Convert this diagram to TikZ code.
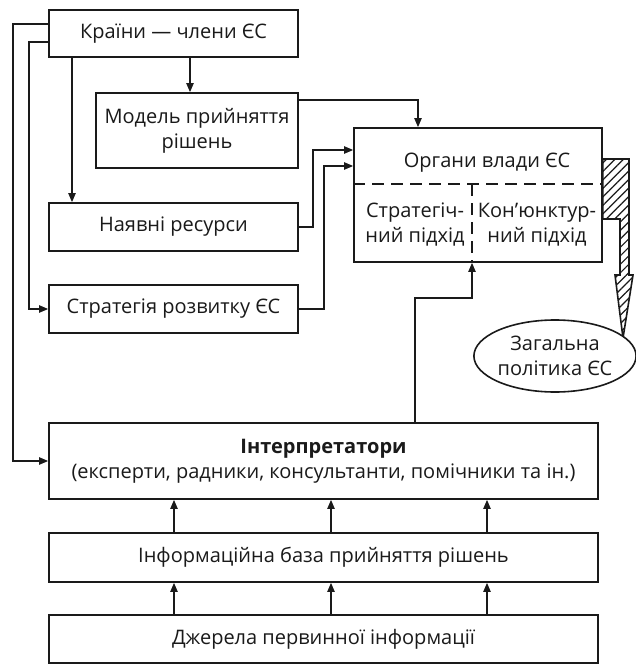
\documentclass[tikz,border=0pt]{standalone}
\usepackage{fontspec}
\setmainfont{Open Sans}
\usetikzlibrary{arrows.meta, positioning, calc, patterns.meta, shapes.geometric}
\definecolor{ink}{HTML}{1A1A1A}
\tikzset{
  font=\fontsize{10}{12.5}\selectfont,
  >={Triangle[length=4.5pt, width=3.6pt]},
  %
  box/.style={
    draw=ink, line width=0.8pt, fill=white, align=center, text=ink,
    inner sep=2pt,
  },
  oval/.style={box, ellipse, inner sep=0pt},
  lbl/.style={text=ink, align=center, inner sep=1pt},
  %
  flow/.style={draw=ink, line width=0.8pt, ->},
  split/.style={draw=ink, line width=0.8pt, dash pattern=on 6pt off 3.5pt},
  hatch/.style={draw=ink, line width=0.8pt,
                pattern={Lines[angle=45, distance=3pt, line width=0.6pt]},
                pattern color=ink},
}

\begin{document}
\begin{tikzpicture}[x=0.5pt, y=-0.5pt]
  \useasboundingbox (0,0) rectangle (636,664);

  % --- inputs on the left ------------------------------------------------
  \node[box, minimum width=124.5pt, minimum height=23.5pt] (countries) at (173.5,33.5)
    {Країни — члени ЄС};
  \node[box, minimum width=101pt, minimum height=37.5pt] (model) at (197,130.5)
    {Модель прийняття\\рішень};
  \node[box, minimum width=124.5pt, minimum height=24pt] (resources) at (173.5,227)
    {Наявні ресурси};
  \node[box, minimum width=124.5pt, minimum height=24pt] (strategy) at (173.5,309)
    {Стратегія розвитку ЄС};

  \draw[flow] (countries.south -| 190,0) -- (model.north -| 190,0);
  \draw[flow] (countries.south -| 72,0) -- (resources.north -| 72,0);
  \draw[flow] (countries.west |- 0,42) -- ++(-19,0) |- (strategy.west);

  % --- the authorities ---------------------------------------------------
  \node[box, minimum width=124pt, minimum height=67pt] (organs) at (478,195) {};
  \node[lbl] (organstitle) at (487,163) {Органи влади ЄС};
  \node[lbl] (strat) at (415,225) {Стратегіч-\\ний підхід};
  \node[lbl] (conj) at (537,225) {Кон'юнктур-\\ний підхід};
  \draw[split] (organs.west |- 0,184) -- (organs.east |- 0,184);
  \draw[split] (472,184) -- (organs.south -| 472,0);

  \draw[flow] (model.east |- 0,100) -| (organs.north -| 418,0);
  \draw[flow] (resources.east) -- ++(14,0) |- (organs.west |- 0,150);
  \draw[flow] (strategy.east) -- ++(25,0) |- (organs.west |- 0,166);

  % --- the outcome -------------------------------------------------------
  \draw[hatch] (organs.east |- 0,159) -- (629,159) -- (629,275) -- (633,275)
    -- (623,338) -- (615,275) -- (620,275) -- (620,219) -- (organs.east |- 0,219) -- cycle;
  \node[oval, minimum width=80pt, minimum height=36pt] (policy) at (555,356)
    {Загальна\\політика ЄС};

  % --- the information chain ---------------------------------------------
  \node[box, minimum width=274.5pt, minimum height=38pt] (interp) at (323.5,461)
    {\textbf{Інтерпретатори}\\(експерти, радники, консультанти, помічники та ін.)};
  \node[box, minimum width=274.5pt, minimum height=24.5pt] (infobase) at (323.5,557.5)
    {Інформаційна база прийняття рішень};
  \node[box, minimum width=274.5pt, minimum height=24pt] (sources) at (323.5,639)
    {Джерела первинної інформації};

  \draw[flow] (countries.west |- 0,24) -- ++(-35,0) |- (interp.west);
  \draw[flow] (interp.north -| 415,0) -- ++(0,-124) -| (organs.south -| 472,0);
  \foreach \x in {174,331,487} {
    \draw[flow] (sources.north -| \x,0) -- (infobase.south -| \x,0);
    \draw[flow] (infobase.north -| \x,0) -- (interp.south -| \x,0);
  }

\end{tikzpicture}
\end{document}
